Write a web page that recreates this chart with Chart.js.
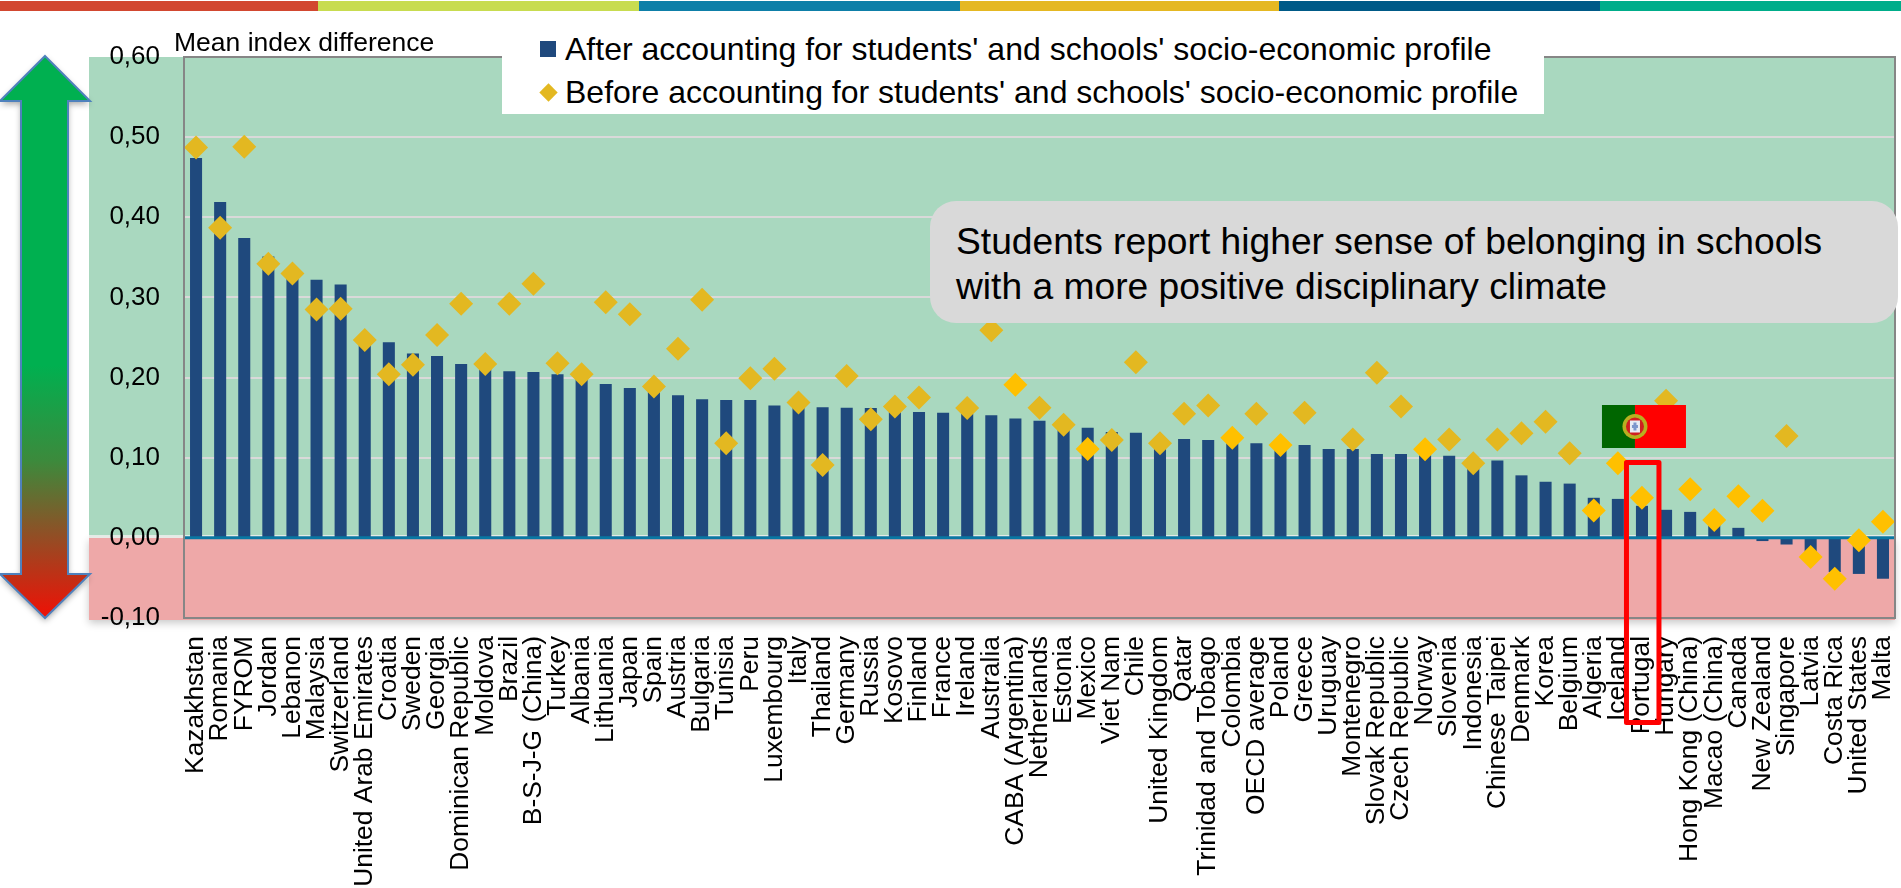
<!DOCTYPE html>
<html>
<head>
<meta charset="utf-8">
<title>Sense of belonging and disciplinary climate</title>
<script src="https://cdn.jsdelivr.net/npm/chart.js@4"></script>
<style>
  html, body { margin: 0; padding: 0; background: #fff; }
  #wrap { position: relative; width: 1901px; height: 888px; overflow: hidden; font-family: "Liberation Sans", Arial, sans-serif; color: #000; }
  #chart { position: absolute; left: 0; top: 0; }
  .txt { position: absolute; white-space: nowrap; }
  #yTitle { left: 174px; top: 27px; font-size: 26.5px; line-height: 30px; }
  #legendBox { position: absolute; left: 502px; top: 24px; width: 1042px; height: 90px; background: #fff; }
  #legendBox .txt { left: 63px; font-size: 32px; line-height: 36px; }
  .swatch { position: absolute; left: 38px; width: 16px; height: 16px; background: #1F497D; }
  .diamond { position: absolute; left: 40px; width: 13px; height: 13px; background: #E3B821; transform: rotate(45deg); }
  #note { position: absolute; left: 930px; top: 201px; width: 968px; height: 122px; background: #D9D9D9; border-radius: 26px; }
  #note .txt { left: 26px; font-size: 37.2px; line-height: 45px; }
</style>
</head>
<body>
<div id="wrap">
  <canvas id="chart" width="1901" height="888"></canvas>
  <div class="txt" id="yTitle">Mean index difference</div>
  <div id="legendBox">
    <div class="swatch" style="top:17px"></div>
    <div class="txt" style="top:7px" id="legendAfter"></div>
    <div class="diamond" style="top:62px"></div>
    <div class="txt" style="top:50px" id="legendBefore"></div>
  </div>
  <div id="note">
    <div class="txt" style="top:18px">Students report higher sense of belonging in schools</div>
    <div class="txt" style="top:63px">with a more positive disciplinary climate</div>
  </div>
</div>
<script>
'use strict';

const countries = [
  'Kazakhstan', 'Romania', 'FYROM', 'Jordan', 'Lebanon', 'Malaysia', 'Switzerland', 'United Arab Emirates',
  'Croatia', 'Sweden', 'Georgia', 'Dominican Republic', 'Moldova', 'Brazil', 'B-S-J-G (China)', 'Turkey',
  'Albania', 'Lithuania', 'Japan', 'Spain', 'Austria', 'Bulgaria', 'Tunisia', 'Peru', 'Luxembourg', 'Italy',
  'Thailand', 'Germany', 'Russia', 'Kosovo', 'Finland', 'France', 'Ireland', 'Australia', 'CABA (Argentina)',
  'Netherlands', 'Estonia', 'Mexico', 'Viet Nam', 'Chile', 'United Kingdom', 'Qatar', 'Trinidad and Tobago',
  'Colombia', 'OECD average', 'Poland', 'Greece', 'Uruguay', 'Montenegro', 'Slovak Republic', 'Czech Republic',
  'Norway', 'Slovenia', 'Indonesia', 'Chinese Taipei', 'Denmark', 'Korea', 'Belgium', 'Algeria', 'Iceland',
  'Portugal', 'Hungary', 'Hong Kong (China)', 'Macao (China)', 'Canada', 'New Zealand', 'Singapore', 'Latvia',
  'Costa Rica', 'United States', 'Malta'
];

const afterProfile = [
  0.474, 0.419, 0.374, 0.351, 0.335, 0.322, 0.316, 0.245,
  0.244, 0.230, 0.227, 0.217, 0.214, 0.208, 0.207, 0.204,
  0.200, 0.192, 0.187, 0.183, 0.178, 0.173, 0.172, 0.172, 0.165, 0.163,
  0.163, 0.1625, 0.162, 0.158, 0.157, 0.156, 0.155, 0.153, 0.149,
  0.146, 0.138, 0.1375, 0.132, 0.131, 0.122, 0.1234, 0.122,
  0.118, 0.118, 0.113, 0.116, 0.111, 0.111, 0.1047, 0.1047,
  0.103, 0.1026, 0.090, 0.0964, 0.078, 0.070, 0.0677, 0.050, 0.0486,
  0.040, 0.035, 0.0324, 0.018, 0.0125, -0.004, -0.0083, -0.018,
  -0.0426, -0.045, -0.051
];

// France and Uruguay have no value for this series
const beforeProfile = [
  0.487, 0.387, 0.488, 0.342, 0.330, 0.285, 0.286, 0.247,
  0.204, 0.216, 0.253, 0.292, 0.217, 0.292, 0.317, 0.218,
  0.204, 0.294, 0.279, 0.189, 0.236, 0.297, 0.118, 0.199, 0.211, 0.169,
  0.091, 0.202, 0.148, 0.164, 0.175, null, 0.162, 0.259, 0.191,
  0.1625, 0.141, 0.111, 0.122, 0.219, 0.118, 0.155, 0.165,
  0.125, 0.155, 0.116, 0.156, null, 0.1226, 0.206, 0.164,
  0.1106, 0.1226, 0.093, 0.1226, 0.1305, 0.145, 0.1056, 0.034, 0.093,
  0.050, 0.171, 0.0607, 0.0224, 0.052, 0.0337, 0.127, -0.024,
  -0.051, -0.003, 0.020
];

const brightMarkers = [
  'CABA (Argentina)', 'Mexico', 'Colombia', 'Poland', 'Norway', 'Algeria', 'Iceland', 'Portugal',
  'Hong Kong (China)', 'Macao (China)', 'Canada', 'New Zealand', 'Latvia', 'Costa Rica', 'United States', 'Malta'
];

const seriesNames = [
  "After accounting for students' and schools' socio-economic profile",
  "Before accounting for students' and schools' socio-economic profile"
];

const topStripes = [
  [0, 318, '#D24730'], [318, 639, '#C8DC50'], [639, 960, '#0E7FA8'],
  [960, 1279, '#E5B822'], [1279, 1600, '#005A87'], [1600, 1901, '#00AD8A']
];

document.getElementById('legendAfter').textContent = seriesNames[0];
document.getElementById('legendBefore').textContent = seriesNames[1];

// page furniture behind the plot: stripes, coloured panels and the big arrow
function drawBackdrop(chart) {
  let ctx = chart.ctx;
  let area = chart.chartArea;
  let yScale = chart.scales.y;
  let y0 = yScale.getPixelForValue(0);
  let panelLeft = 89;

  ctx.save();
  topStripes.forEach(function (s) {
    ctx.fillStyle = s[2];
    ctx.fillRect(s[0], 1, s[1] - s[0], 10);
  });

  ctx.save();
  ctx.shadowColor = 'rgba(0,0,0,0.22)';
  ctx.shadowBlur = 8;
  ctx.shadowOffsetY = 3;
  ctx.fillStyle = '#EEA8A8';
  ctx.fillRect(panelLeft, y0, area.right - panelLeft, area.bottom + 2 - y0);
  ctx.restore();

  ctx.fillStyle = '#A9D8BF';
  ctx.fillRect(panelLeft, area.top, area.right - panelLeft, y0 - 2.5 - area.top);
  ctx.fillStyle = '#E6EAE6';
  ctx.fillRect(panelLeft, y0 - 2.5, area.right - panelLeft, 2.5);

  // up/down arrow
  let top = 56, bottom = 618, headTop = 101, headBottom = 574;
  let grad = ctx.createLinearGradient(0, top, 0, bottom);
  grad.addColorStop(0, '#00B050');
  grad.addColorStop(0.55, '#00B050');
  grad.addColorStop(0.72, '#3C8A3C');
  grad.addColorStop(0.85, '#8F5026');
  grad.addColorStop(1, '#F01005');
  ctx.save();
  ctx.shadowColor = 'rgba(0,0,0,0.35)';
  ctx.shadowBlur = 6;
  ctx.shadowOffsetY = 3;
  ctx.beginPath();
  ctx.moveTo(45, top);
  ctx.lineTo(90, headTop);
  ctx.lineTo(68, headTop);
  ctx.lineTo(68, headBottom);
  ctx.lineTo(90, headBottom);
  ctx.lineTo(45, bottom);
  ctx.lineTo(0, headBottom);
  ctx.lineTo(21, headBottom);
  ctx.lineTo(21, headTop);
  ctx.lineTo(0, headTop);
  ctx.closePath();
  ctx.fillStyle = grad;
  ctx.fill();
  ctx.shadowColor = 'transparent';
  ctx.strokeStyle = '#4F81BD';
  ctx.lineWidth = 2;
  ctx.stroke();
  ctx.restore();
  ctx.restore();
}

function drawFlag(ctx, x, y) {
  ctx.fillStyle = '#006600';
  ctx.fillRect(x, y, 33, 43);
  ctx.fillStyle = '#FF0000';
  ctx.fillRect(x + 33, y, 51, 43);
  let cx = x + 33, cy = y + 21.5;
  ctx.fillStyle = '#B8B020';
  ctx.beginPath();
  ctx.arc(cx, cy, 12.5, 0, Math.PI * 2);
  ctx.fill();
  ctx.fillStyle = '#D02020';
  ctx.beginPath();
  ctx.arc(cx, cy, 9, 0, Math.PI * 2);
  ctx.fill();
  ctx.fillStyle = '#E8ECF4';
  ctx.fillRect(cx - 5, cy - 6, 10, 12);
  ctx.fillStyle = '#7C96CC';
  ctx.fillRect(cx - 3, cy - 1.5, 6, 3);
  ctx.fillRect(cx - 1.5, cy - 4, 3, 8);
}

const climatePlugin = {
  id: 'climateDecor',
  beforeDraw: drawBackdrop,
  afterDatasetDraw: function (chart, args) {
    // zero line sits over the bars but under the diamonds
    if (args.index !== 0) return;
    let ctx = chart.ctx;
    let y0 = chart.scales.y.getPixelForValue(0);
    ctx.save();
    ctx.strokeStyle = '#0A77A3';
    ctx.lineWidth = 3;
    ctx.beginPath();
    ctx.moveTo(chart.chartArea.left, y0);
    ctx.lineTo(chart.chartArea.right, y0);
    ctx.stroke();
    ctx.restore();
  },
  afterDraw: function (chart) {
    let ctx = chart.ctx;
    let area = chart.chartArea;
    let xScale = chart.scales.x;
    ctx.save();
    ctx.strokeStyle = '#868686';
    ctx.lineWidth = 2;
    ctx.strokeRect(area.left, area.top, area.right - area.left, area.bottom - area.top);

    // flag and highlight frame for Portugal
    let px = xScale.getPixelForValue(countries.indexOf('Portugal'));
    drawFlag(ctx, px - 40, 405);
    ctx.strokeStyle = '#FF0000';
    ctx.lineWidth = 5;
    ctx.lineJoin = 'round';
    ctx.strokeRect(px - 15.5, 462.5, 32.5, 260);
    ctx.restore();
  }
};

const data = {
  labels: countries,
  datasets: [
    {
      type: 'bar',
      label: seriesNames[0],
      data: afterProfile,
      backgroundColor: '#1F497D',
      barPercentage: 0.5,
      categoryPercentage: 1,
      order: 2
    },
    {
      type: 'line',
      label: seriesNames[1],
      data: beforeProfile,
      showLine: false,
      pointStyle: 'rectRot',
      pointRadius: 12,
      pointBorderWidth: 0,
      pointBackgroundColor: function (ctx) {
        return brightMarkers.includes(countries[ctx.dataIndex]) ? '#FFC000' : '#E3B821';
      },
      clip: false,
      order: 1
    }
  ]
};

const config = {
  type: 'bar',
  data: data,
  plugins: [climatePlugin],
  options: {
    responsive: false,
    animation: false,
    layout: { autoPadding: false, padding: { left: 0, top: 57, right: 6, bottom: 0 } },
    plugins: { legend: { display: false }, tooltip: { enabled: false } },
    scales: {
      x: {
        offset: true,
        grid: { display: false, drawTicks: false },
        border: { display: false },
        afterFit: function (scale) {
          scale.height = 270;
          scale.paddingLeft = 0;
          scale.paddingRight = 0;
        },
        ticks: {
          autoSkip: false,
          minRotation: 90,
          maxRotation: 90,
          padding: 18,
          color: '#000',
          font: { family: '"Liberation Sans", Arial, sans-serif', size: 26.4 }
        }
      },
      y: {
        min: -0.1,
        max: 0.6,
        afterFit: function (scale) { scale.width = 184; },
        grid: {
          drawTicks: false,
          lineWidth: 2,
          color: function (ctx) {
            let v = ctx.tick.value;
            if (v > 0.55 || v < 0.05) return 'rgba(0,0,0,0)';
            return '#D9D9D9';
          }
        },
        border: { display: false },
        ticks: {
          stepSize: 0.1,
          padding: 24,
          color: '#000',
          font: { family: '"Liberation Sans", Arial, sans-serif', size: 26 },
          callback: function (value) {
            if (Math.abs(value) < 1e-9) value = 0;
            return value.toFixed(2).replace('.', ',');
          }
        }
      }
    }
  }
};

new Chart(document.getElementById('chart'), config);
</script>
</body>
</html>
